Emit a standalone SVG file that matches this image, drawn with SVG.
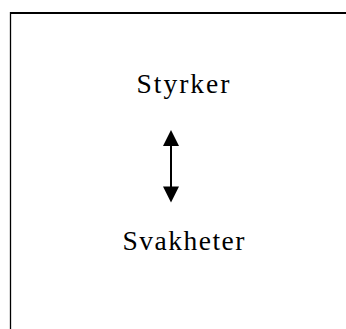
<svg xmlns="http://www.w3.org/2000/svg" width="346" height="329" viewBox="0 0 346 329">
<defs>
<style>
.lbl{font-family:"Liberation Serif","Times New Roman",serif;font-size:27.5px;fill:#000}
.frame{stroke:#000;fill:none}
</style>
</defs>
<rect width="346" height="329" fill="#fff"/>
<g id="frame">
<line class="frame" x1="10" y1="13" x2="346" y2="13" stroke-width="2"/>
<line class="frame" x1="10.5" y1="12" x2="10.5" y2="329" stroke-width="1.3"/>
</g>
<g id="node-styrker">
<text class="lbl" x="136.5" y="93" textLength="93" lengthAdjust="spacing">Styrker</text>
</g>
<g id="node-svakheter">
<text class="lbl" x="122.5" y="250" textLength="122" lengthAdjust="spacing">Svakheter</text>
</g>
<g id="connectors">
<line x1="171" y1="144" x2="171" y2="189" stroke="#000" stroke-width="2"/>
<polygon points="171,130 163,146 179,146" fill="#000"/>
<polygon points="171,202.5 163,186.5 179,186.5" fill="#000"/>
</g>
</svg>
